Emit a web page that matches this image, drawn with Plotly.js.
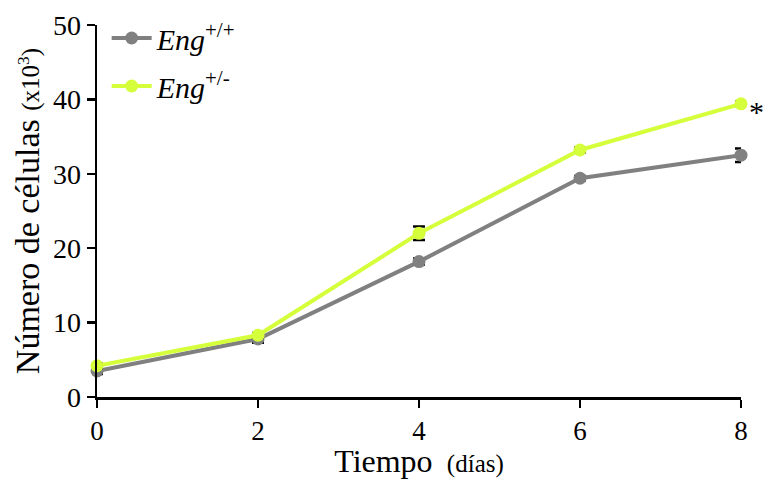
<!DOCTYPE html>
<html>
<head>
<meta charset="utf-8">
<script src="https://cdn.plot.ly/plotly-3.0.1.min.js"></script>
<style>html,body{margin:0;padding:0;background:#fff}#chart{width:765px;height:479px}</style>
</head>
<body>
<div id="chart"></div>
<script>
const dias = [0, 2, 4, 6, 8];
const engWT = [3.5, 7.8, 18.2, 29.4, 32.5];
const engWTerr = [0.4, 0.5, 0.4, 0.3, 0.9];
const engHet = [4.2, 8.3, 22.0, 33.2, 39.4];
const engHetErr = [0.3, 0.3, 0.9, 0.3, 0.3];
const xTicks = [0, 2, 4, 6, 8];
const yTicks = [0, 10, 20, 30, 40, 50];

const FONT = "Liberation Serif, DejaVu Serif, serif";
const gray = "#808080";
const green = "#d4ff3a";

const traces = [
  {
    x: dias, y: engWT, type: "scatter", mode: "lines+markers",
    name: "<i>Eng</i><sup>+/+</sup>", legendgroup: "a",
    line: {color: gray, width: 4},
    marker: {color: gray, size: 13},
    error_y: {type: "data", array: engWTerr, visible: true, color: "#000", thickness: 2.5, width: 6},
    cliponaxis: false
  },
  {
    x: dias, y: engHet, type: "scatter", mode: "lines+markers",
    name: "<i>Eng</i><sup>+/-</sup>", legendgroup: "b",
    line: {color: green, width: 4},
    marker: {color: green, size: 13},
    error_y: {type: "data", array: engHetErr, visible: true, color: "#000", thickness: 2.5, width: 6},
    cliponaxis: false
  }
];

const layout = {
  width: 765, height: 479,
  margin: {l: 97, r: 24, t: 23, b: 82},
  paper_bgcolor: "#fff", plot_bgcolor: "#fff",
  font: {family: FONT, color: "#000", size: 26},
  showlegend: true,
  legend: {x: 0.015, y: 1.035, xanchor: "left", yanchor: "top", font: {size: 30, family: FONT},
           itemwidth: 40,
           traceorder: "grouped", tracegroupgap: 6, bgcolor: "rgba(0,0,0,0)"},
  xaxis: {
    range: [0, 8], tickvals: xTicks, ticktext: xTicks.map(String),
    showgrid: false, zeroline: false, showline: true, linecolor: "#000", linewidth: 2.5,
    ticks: "outside", ticklen: 8, tickwidth: 2.5, tickcolor: "#000",
    tickfont: {size: 27},
    title: {text: "Tiempo <span style='font-size:25px'> (días)</span>", font: {size: 32}}
  },
  yaxis: {
    range: [0, 50], tickvals: yTicks, ticktext: yTicks.map(String),
    showgrid: false, zeroline: false, showline: true, linecolor: "#000", linewidth: 2.5,
    ticks: "outside", ticklen: 8, tickwidth: 2.5, tickcolor: "#000",
    tickfont: {size: 28},
    title: {text: "Número de células <span style='font-size:25px'>(x10<sup>3</sup>)</span>", font: {size: 34}, standoff: 3}
  },
  annotations: [
    {x: 8, y: engHet[4], xref: "x", yref: "y", text: "*", showarrow: false,
     xanchor: "left", yanchor: "middle", xshift: 6, yshift: -8, font: {size: 30}}
  ]
};

Plotly.newPlot("chart", traces, layout, {displayModeBar: false, staticPlot: true});
</script>
</body>
</html>
